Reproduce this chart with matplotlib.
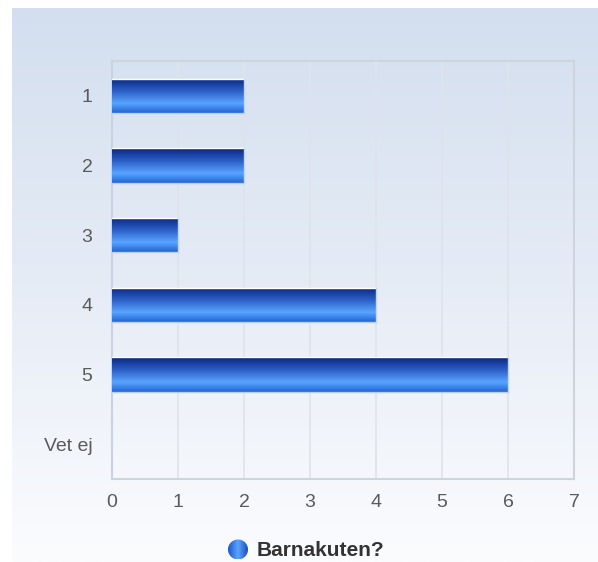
import numpy as np
import matplotlib
matplotlib.use("Agg")
import matplotlib.pyplot as plt
from matplotlib.colors import LinearSegmentedColormap
from matplotlib.patches import Circle

# ── Data ──────────────────────────────────────────────────────────────────────
categories = ["1", "2", "3", "4", "5", "Vet ej"]
values = [2, 2, 1, 4, 6, 0]
series_name = "Barnakuten?"
x_ticks = [0, 1, 2, 3, 4, 5, 6, 7]

plt.rcParams["font.family"] = ["Liberation Sans", "DejaVu Sans"]

W, H = 598, 562
fig = plt.figure(figsize=(W / 100, H / 100), dpi=100, facecolor="white")

# ── Background panel gradient ────────────────────────────────────────────────
bg_cmap = LinearSegmentedColormap.from_list("bg", ["#d3dfef", "#e6ecf6", "#fbfcfe"])
ax_bg = fig.add_axes([12 / W, 0, 1 - 12 / W, 1 - 8 / H])
ax_bg.axis("off")
ax_bg.imshow(np.linspace(0, 1, 256).reshape(-1, 1), aspect="auto", cmap=bg_cmap,
             extent=[0, 1, 0, 1])

# ── Main axes ────────────────────────────────────────────────────────────────
left, right, top, bottom = 112, 574, 61, 479
ax = fig.add_axes([left / W, 1 - bottom / H, (right - left) / W, (bottom - top) / H])
ax.patch.set_alpha(0)

bar_cmap = LinearSegmentedColormap.from_list(
    "bar", [(0.0, "#0a2580"), (0.35, "#2a5cc4"), (0.72, "#58a4ff"), (1.0, "#2064d4")])

y = np.arange(len(categories))
bars = ax.barh(y, values, height=0.49, color="none", edgecolor="none", zorder=3)
grad = np.linspace(0, 1, 256).reshape(-1, 1)
for b in bars:
    if b.get_width() <= 0:
        continue
    x0, y0 = b.get_x(), b.get_y()
    w, h = b.get_width(), b.get_height()
    # y axis is inverted, so top of bar is y0
    im = ax.imshow(grad, aspect="auto", cmap=bar_cmap, extent=[x0, x0 + w, y0 + h, y0],
                   zorder=3, interpolation="bilinear")
    im.set_clip_path(b)
    ax.plot([x0, x0 + w], [y0, y0], color="white", lw=1.0, zorder=4)
    ax.plot([x0, x0 + w], [y0 + h, y0 + h], color="#b8cdf0", lw=1.0, zorder=4)
    ax.plot([x0 + w, x0 + w], [y0, y0 + h], color="#c0d4f4", lw=1.0, zorder=4)

ax.set_xlim(0, 7)
ax.set_ylim(len(categories) - 0.5, -0.5)
ax.set_xticks(x_ticks)
ax.set_yticks(y)
ax.set_yticklabels(categories)
ax.xaxis.grid(True, color="#dfe3ea", lw=1.2, zorder=1)
ax.set_axisbelow(True)
ax.tick_params(axis="both", length=0, labelsize=14, labelcolor="#5a5a5a")
ax.tick_params(axis="x", pad=11)
ax.tick_params(axis="y", pad=14)
for side, sp in ax.spines.items():
    sp.set_color("#cfd4dc")
    sp.set_linewidth(1.5)
ax.spines["left"].set_color("#c8d2e2")

# ── Legend ───────────────────────────────────────────────────────────────────
ax_leg = fig.add_axes([0, 0, 1, 1])
ax_leg.set_xlim(0, W)
ax_leg.set_ylim(H, 0)
ax_leg.axis("off")
circ = Circle((238, 549.5), 10, facecolor="none", edgecolor="none")
ax_leg.add_patch(circ)
hgrad = np.linspace(0, 1, 256).reshape(1, -1)
icon_cmap = LinearSegmentedColormap.from_list("icon", ["#1a55c8", "#5aa4ff", "#1a4ab8"])
im = ax_leg.imshow(hgrad, aspect="auto", cmap=icon_cmap, extent=[228, 248, 559.5, 539.5])
im.set_clip_path(circ)
ax_leg.text(257, 550, series_name, fontsize=15, fontweight="bold", color="#333333",
            va="center", ha="left")

fig.savefig("out.png", dpi=100, facecolor="white")
